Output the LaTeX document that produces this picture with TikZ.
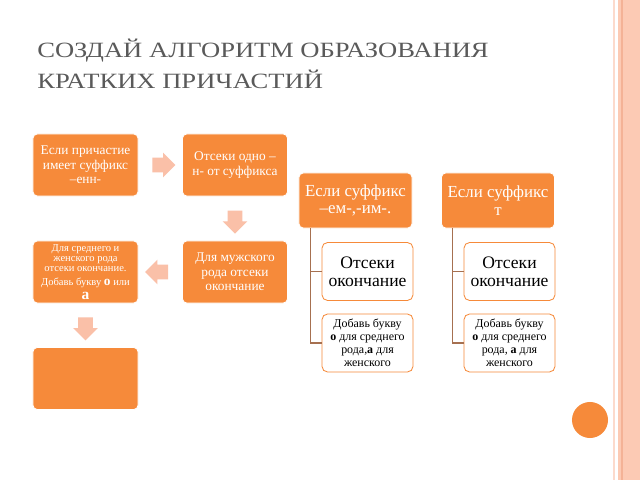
\documentclass[tikz,border=0pt]{standalone}
\usepackage{fontspec}
\setmainfont{Liberation Serif}
\newfontfamily\titlefont[FakeStretch=1.22]{Liberation Serif}
\usetikzlibrary{shapes.arrows}

\definecolor{slideorange}{RGB}{246,138,58}
\definecolor{palearrow}{RGB}{250,192,168}
\definecolor{branchbrown}{RGB}{166,112,80}
\definecolor{titlegray}{RGB}{90,90,90}
\definecolor{stripe}{RGB}{252,202,180}
\definecolor{stripedark}{RGB}{244,178,150}
\definecolor{stripepale}{RGB}{252,218,204}

\tikzset{
  stepbox/.style={draw=white, line width=0.6pt, fill=slideorange, rounded corners=3pt,
    text=white, align=center, inner sep=1pt, minimum width=2.625cm, minimum height=1.55cm},
  rulebox/.style={stepbox, minimum width=2.825cm, minimum height=1.375cm,
    font=\fontsize{12}{12.5}\selectfont},
  subbox/.style={draw=slideorange, line width=0.6pt, fill=white, rounded corners=4pt,
    align=center, inner sep=1pt, minimum width=2.275cm, minimum height=1.45cm},
  blockarrow/.style={single arrow, fill=palearrow, draw=none, inner sep=0pt,
    text height=0.35cm, text depth=0pt, minimum height=0.575cm,
    single arrow head extend=0.125cm, sloped, allow upside down},
  branch/.style={draw=branchbrown, line width=0.8pt},
  titletext/.style={anchor=base west, inner sep=0, text=titlegray,
    font=\titlefont\fontsize{15.5}{17}\selectfont}
}

\begin{document}
\begin{tikzpicture}[x=0.025cm, y=-0.025cm]

  \useasboundingbox (0,0) rectangle (640,480);
  \fill[white] (0,0) rectangle (640,480);

  \fill[stripepale] (612.5,0) rectangle (614.5,480);
  \fill[stripe] (618,0) rectangle (640,480);
  \fill[stripedark] (620.5,0) rectangle (623,480);
  \fill[slideorange] (590,420) circle[radius=0.45cm];

  \node[titletext] (title1) at (37,58) {СОЗДАЙ АЛГОРИТМ ОБРАЗОВАНИЯ};
  \node[titletext] (title2) at (37,89) {КРАТКИХ ПРИЧАСТИЙ};

  \node[stepbox, font=\fontsize{9.5}{10.4}\selectfont] (A) at (85.5,165) {Если причастие\\имеет суффикс\\–енн-};
  \node[stepbox, font=\fontsize{9.5}{10.4}\selectfont] (B) at (235,165) {Отсеки одно –\\н- от суффикса};
  \node[stepbox, font=\fontsize{9.5}{10.2}\selectfont] (C) at (235,272) {Для мужского\\рода отсеки\\окончание};
  \node[stepbox, font=\fontsize{7.5}{7.2}\selectfont] (D) at (85.5,272) {Для среднего и\\женского рода\\отсеки окончание.\\[2.5pt]Добавь букву \textbf{\fontsize{9.5}{9}\selectfont о} или\\[2.5pt]\textbf{\fontsize{11}{11}\selectfont а}};
  \node[stepbox] (E) at (85.5,378.5) {};

  \path (A) -- node[blockarrow] (a1) {} (B);
  \path (B) -- node[blockarrow] (a2) {} (C);
  \path (C) -- node[blockarrow] (a3) {} (D);
  \path (D) -- node[blockarrow] (a4) {} (E);

  \node[rulebox] (F) at (355.5,200.5) {Если суффикс\\–ем-,-им-.};
  \node[rulebox] (G) at (498,200.5) {Если суффикс\\т};

  \node[subbox, font=\fontsize{12.5}{12.5}\selectfont] (F1) at (367.5,271.5) {Отсеки\\окончание};
  \node[subbox, font=\fontsize{8.5}{9.3}\selectfont] (F2) at (367.5,343) {Добавь букву\\\textbf{о} для среднего\\рода,\textbf{а} для\\женского};
  \node[subbox, font=\fontsize{12.5}{12.5}\selectfont] (G1) at (509.5,271.5) {Отсеки\\окончание};
  \node[subbox, font=\fontsize{8.5}{9.3}\selectfont] (G2) at (509.5,343) {Добавь букву\\\textbf{о} для среднего\\рода, \textbf{а} для\\женского};

  \draw[branch] ([xshift=-1.13cm]F.south) |- (F1.west);
  \draw[branch] ([xshift=-1.13cm]F.south) |- (F2.west);
  \draw[branch] ([xshift=-1.13cm]G.south) |- (G1.west);
  \draw[branch] ([xshift=-1.13cm]G.south) |- (G2.west);

\end{tikzpicture}
\end{document}
